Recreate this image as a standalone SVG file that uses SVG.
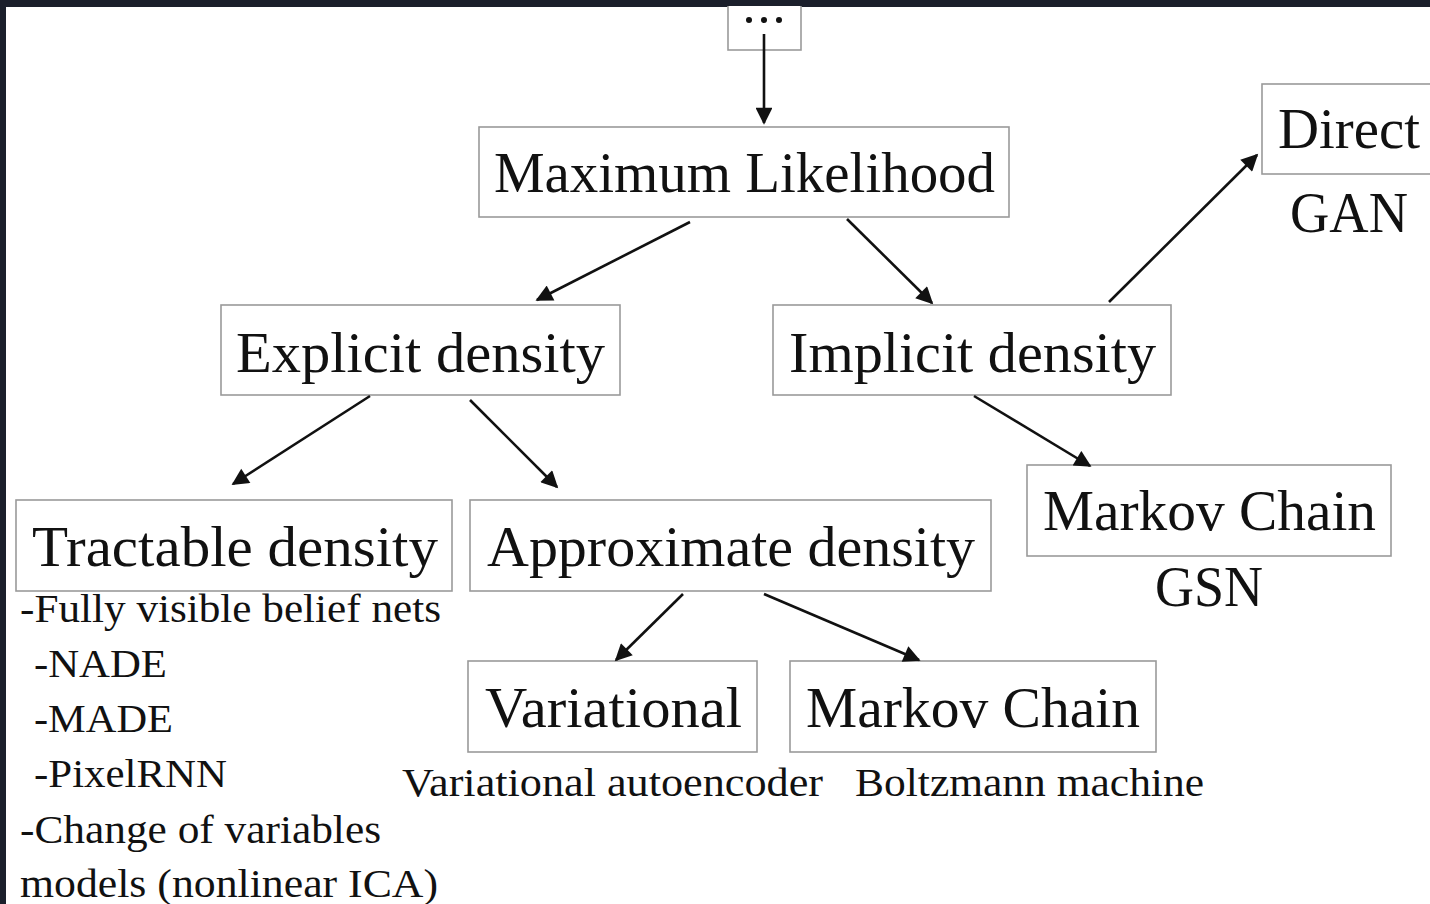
<svg xmlns="http://www.w3.org/2000/svg" width="1430" height="904" viewBox="0 0 1430 904">
<style>
.box{fill:#fff;stroke:#9a9a9a;stroke-width:1.6}
.t{font-family:"Liberation Serif","Times New Roman",serif;fill:#111}
.big{font-size:58px}
.sm{font-size:40px}
.c{stroke:#111;stroke-width:2.6;fill:none;marker-end:url(#ah)}
</style>
<defs>
<marker id="ah" viewBox="0 0 10 10" refX="9" refY="5" markerWidth="7" markerHeight="6.5" markerUnits="strokeWidth" orient="auto">
<path d="M0,0 L10,5 L0,10 z" fill="#111"/>
</marker>
</defs>
<rect x="0" y="0" width="1430" height="904" fill="#fff"/>
<rect x="0" y="0" width="1430" height="7" fill="#1b1f2b"/>
<rect x="0" y="0" width="6" height="904" fill="#1b1f2b"/>

<g id="dots">
<rect class="box" x="728" y="4" width="73" height="46"/>
<circle cx="749" cy="20" r="3" fill="#111"/>
<circle cx="764" cy="20" r="3" fill="#111"/>
<circle cx="779" cy="20" r="3" fill="#111"/>
</g>
<rect x="700" y="0" width="120" height="6" fill="#1b1f2b"/>

<g id="ml">
<rect class="box" x="479" y="127" width="530" height="90"/>
<text class="t big" x="494" y="192" textLength="501" lengthAdjust="spacingAndGlyphs">Maximum Likelihood</text>
</g>
<g id="explicit">
<rect class="box" x="221" y="305" width="399" height="90"/>
<text class="t big" x="236" y="372" textLength="369" lengthAdjust="spacingAndGlyphs">Explicit density</text>
</g>
<g id="implicit">
<rect class="box" x="773" y="305" width="398" height="90"/>
<text class="t big" x="789" y="372" textLength="367" lengthAdjust="spacingAndGlyphs">Implicit density</text>
</g>
<g id="direct">
<rect class="box" x="1262" y="84" width="180" height="90"/>
<text class="t big" x="1278" y="148" textLength="142" lengthAdjust="spacingAndGlyphs">Direct</text>
<text class="t big" x="1290" y="232" textLength="118" lengthAdjust="spacingAndGlyphs">GAN</text>
</g>
<g id="tractable">
<rect class="box" x="16" y="500" width="436" height="91"/>
<text class="t big" x="32" y="566" textLength="406" lengthAdjust="spacingAndGlyphs">Tractable density</text>
<text class="t sm" x="20" y="622" textLength="421" lengthAdjust="spacingAndGlyphs">-Fully visible belief nets</text>
<text class="t sm" x="34" y="677" textLength="133" lengthAdjust="spacingAndGlyphs">-NADE</text>
<text class="t sm" x="34" y="732" textLength="139" lengthAdjust="spacingAndGlyphs">-MADE</text>
<text class="t sm" x="34" y="787" textLength="193" lengthAdjust="spacingAndGlyphs">-PixelRNN</text>
<text class="t sm" x="20" y="843" textLength="361" lengthAdjust="spacingAndGlyphs">-Change of variables</text>
<text class="t sm" x="20" y="897" textLength="418" lengthAdjust="spacingAndGlyphs">models (nonlinear ICA)</text>
</g>
<g id="approx">
<rect class="box" x="470" y="500" width="521" height="91"/>
<text class="t big" x="487" y="566" textLength="488" lengthAdjust="spacingAndGlyphs">Approximate density</text>
</g>
<g id="markov1">
<rect class="box" x="1027" y="465" width="364" height="91"/>
<text class="t big" x="1043" y="530" textLength="333" lengthAdjust="spacingAndGlyphs">Markov Chain</text>
<text class="t big" x="1155" y="606" textLength="108" lengthAdjust="spacingAndGlyphs">GSN</text>
</g>
<g id="variational">
<rect class="box" x="468" y="661" width="289" height="91"/>
<text class="t big" x="485" y="727" textLength="257" lengthAdjust="spacingAndGlyphs">Variational</text>
<text class="t sm" x="402" y="796" textLength="421" lengthAdjust="spacingAndGlyphs">Variational autoencoder</text>
</g>
<g id="markov2">
<rect class="box" x="790" y="661" width="366" height="91"/>
<text class="t big" x="806" y="727" textLength="334" lengthAdjust="spacingAndGlyphs">Markov Chain</text>
<text class="t sm" x="855" y="796" textLength="349" lengthAdjust="spacingAndGlyphs">Boltzmann machine</text>
</g>

<g id="connectors">
<line class="c" x1="764" y1="34" x2="764" y2="123"/>
<line class="c" x1="690" y1="222" x2="537" y2="300"/>
<line class="c" x1="847" y1="219" x2="932" y2="303"/>
<line class="c" x1="1109" y1="302" x2="1257" y2="155"/>
<line class="c" x1="370" y1="396" x2="233" y2="484"/>
<line class="c" x1="470" y1="400" x2="557" y2="487"/>
<line class="c" x1="974" y1="396" x2="1090" y2="466"/>
<line class="c" x1="683" y1="594" x2="616" y2="660"/>
<line class="c" x1="764" y1="594" x2="919" y2="660"/>
</g>
</svg>
